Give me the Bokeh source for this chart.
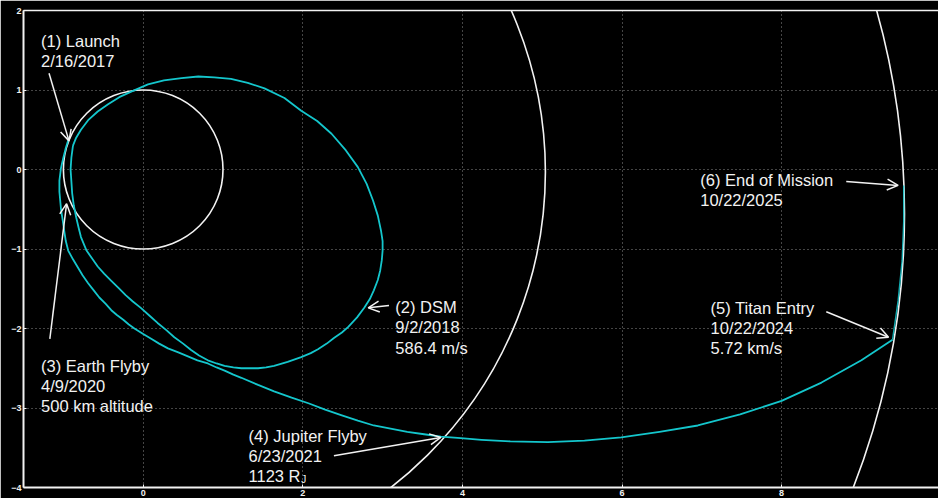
from bokeh.plotting import figure
from bokeh.models import ColumnDataSource, Arrow, OpenHead, LinearAxis, FixedTicker, Range1d
from bokeh.core.properties import value
from bokeh.embed import file_html
from bokeh.resources import INLINE

# Planetary orbits (AU): centre and radius
orbit_name = ["Earth", "Jupiter", "Saturn"]
orbit_cx = [0.0, 0.0, 0.0]
orbit_cy = [0.0, -0.03, -0.56]
orbit_r = [1.0, 5.04, 9.54]

# Launch -> DSM -> return to Earth (first heliocentric loop)
loop_x = [-0.88, -0.90, -0.91, -0.90, -0.89, -0.87, -0.84, -0.81, -0.78, -0.71,
          -0.64, -0.57, -0.49, -0.40, -0.31, -0.22, -0.13, -0.03, 0.08, 0.18,
          0.29, 0.39, 0.50, 0.60, 0.70, 0.81, 0.92, 1.02, 1.13, 1.23,
          1.34, 1.44, 1.54, 1.64, 1.81, 1.98, 2.10, 2.19, 2.30, 2.39,
          2.49, 2.57, 2.68, 2.77, 2.84, 2.89, 2.94, 2.97, 2.99, 3.00,
          3.00, 2.98, 2.94, 2.88, 2.80, 2.69, 2.54, 2.36, 2.18, 1.98,
          1.77, 1.52, 1.31, 1.10, 0.89, 0.69, 0.48, 0.26, 0.06, -0.15,
          -0.30, -0.44, -0.57, -0.69, -0.78, -0.84, -0.88]
loop_y = [0.30, 0.15, 0.00, -0.15, -0.30, -0.45, -0.60, -0.73, -0.85, -1.02,
          -1.12, -1.22, -1.31, -1.40, -1.49, -1.58, -1.66, -1.74, -1.84, -1.93,
          -2.02, -2.11, -2.19, -2.27, -2.34, -2.40, -2.44, -2.47, -2.49, -2.50,
          -2.50, -2.50, -2.49, -2.47, -2.42, -2.36, -2.31, -2.26, -2.19, -2.12,
          -2.05, -1.98, -1.86, -1.74, -1.63, -1.52, -1.39, -1.27, -1.14, -1.02,
          -0.90, -0.77, -0.58, -0.39, -0.18, 0.03, 0.24, 0.45, 0.61, 0.74,
          0.90, 1.02, 1.09, 1.14, 1.16, 1.17, 1.15, 1.12, 1.07, 0.98,
          0.91, 0.82, 0.73, 0.62, 0.50, 0.40, 0.30]

# Earth flyby -> Jupiter flyby -> Titan entry
cruise_x = [-0.93, -0.97, -1.00, -1.03, -1.05, -1.05, -1.04, -1.03, -1.01, -0.99,
            -0.97, -0.94, -0.88, -0.82, -0.76, -0.69, -0.62, -0.55, -0.47, -0.40,
            -0.33, -0.25, -0.18, -0.11, 0.00, 0.10, 0.20, 0.31, 0.44, 0.56,
            0.68, 0.81, 0.92, 1.02, 1.13, 1.23, 1.44, 1.64, 1.86, 2.07,
            2.28, 2.48, 2.69, 2.89, 3.10, 3.31, 3.52, 3.73, 3.98, 4.24,
            4.60, 5.07, 5.53, 5.99, 6.47, 6.95, 7.48, 8.00, 8.50, 9.00, 9.39]
cruise_y = [0.40, 0.27, 0.15, 0.02, -0.14, -0.28, -0.39, -0.50, -0.63, -0.77,
            -0.90, -1.02, -1.13, -1.23, -1.33, -1.43, -1.52, -1.61, -1.69, -1.77,
            -1.83, -1.89, -1.95, -2.00, -2.07, -2.13, -2.19, -2.25, -2.30, -2.35,
            -2.40, -2.44, -2.49, -2.53, -2.58, -2.62, -2.71, -2.79, -2.87, -2.94,
            -3.02, -3.09, -3.16, -3.22, -3.26, -3.30, -3.33, -3.36, -3.38, -3.40,
            -3.42, -3.43, -3.41, -3.37, -3.30, -3.22, -3.08, -2.91, -2.68, -2.40, -2.14]

# Titan entry -> end of mission, following Saturn
titan_x = [9.39, 9.46, 9.51, 9.53, 9.53]
titan_y = [-2.14, -1.65, -1.15, -0.65, -0.20]

# Callout text, one entry per line
label_text = ["(1) Launch", "2/16/2017",
              "(2) DSM", "9/2/2018", "586.4 m/s",
              "(3) Earth Flyby", "4/9/2020", "500 km altitude",
              "(4) Jupiter Flyby", "6/23/2021", "1123 R",
              "(5) Titan Entry", "10/22/2024", "5.72 km/s",
              "(6) End of Mission", "10/22/2025"]
label_x = [-1.28, -1.28,
           3.16, 3.16, 3.16,
           -1.28, -1.28, -1.28,
           1.32, 1.32, 1.32,
           7.11, 7.11, 7.11,
           6.98, 6.98]
label_y = [1.62, 1.37,
           -1.73, -1.98, -2.24,
           -2.47, -2.72, -2.97,
           -3.35, -3.60, -3.85,
           -1.74, -1.99, -2.24,
           -0.13, -0.38]

# Callout arrows: tail -> head
arrow_x0 = [-1.18, 3.08, -1.17, 2.39, 8.56, 8.81]
arrow_y0 = [1.21, -1.71, -2.13, -3.60, -1.79, -0.15]
arrow_x1 = [-0.93, 2.82, -0.96, 3.73, 9.34, 9.46]
arrow_y1 = [0.36, -1.74, -0.43, -3.37, -2.11, -0.20]

x_ticks = [0, 2, 4, 6, 8, 10]
y_ticks = [-4, -3, -2, -1, 0, 1, 2]

FG = "#f2f2f2"
CYAN = "#14c6cc"
FONT = "Liberation Sans"

p = figure(width=938, height=498, output_backend="svg", toolbar_location=None,
           x_range=Range1d(-1.5, 9.966), y_range=Range1d(-4, 2),
           min_border_left=23, min_border_top=10, min_border_bottom=11,
           min_border_right=0, background_fill_color="black",
           border_fill_color="black", outline_line_color=None)

for ax in (p.xaxis[0], p.yaxis[0]):
    ax.axis_line_color = FG
    ax.axis_line_width = 2
    ax.major_tick_line_color = FG
    ax.major_tick_in = 3
    ax.major_tick_out = 0
    ax.minor_tick_line_color = None
    ax.major_label_text_color = FG
    ax.major_label_text_font = FONT
    ax.major_label_text_font_size = "9px"
    ax.major_label_text_font_style = "bold"
    ax.major_label_standoff = 2
p.xaxis[0].ticker = FixedTicker(ticks=x_ticks)
p.yaxis[0].ticker = FixedTicker(ticks=y_ticks)

# top frame edge
top = LinearAxis(ticker=FixedTicker(ticks=[]), axis_line_color=FG, axis_line_width=1.5,
                 major_tick_line_color=None, minor_tick_line_color=None,
                 major_label_standoff=0)
p.add_layout(top, "above")

for g in (p.xgrid[0], p.ygrid[0]):
    g.grid_line_color = "#8a8a8a"
    g.grid_line_dash = "1 3"
    g.grid_line_width = 1
p.xgrid[0].ticker = FixedTicker(ticks=x_ticks)
p.ygrid[0].ticker = FixedTicker(ticks=y_ticks)

orbits = ColumnDataSource(dict(name=orbit_name, x=orbit_cx, y=orbit_cy,
                               w=[2 * r for r in orbit_r], h=[2 * r for r in orbit_r]))
p.ellipse(x="x", y="y", width="w", height="h", source=orbits,
          fill_color=None, line_color=FG, line_width=1.6)

for xs, ys in ((loop_x, loop_y), (cruise_x, cruise_y)):
    p.line(xs, ys, line_color=CYAN, line_width=1.8, line_join="round")
p.line(titan_x, titan_y, line_color=CYAN, line_width=1.4, line_alpha=0.85)

labels = ColumnDataSource(dict(x=label_x, y=label_y, t=label_text))
p.text(x="x", y="y", text="t", source=labels, text_color=FG,
       text_font=value(FONT), text_font_size="16.5px", text_baseline="alphabetic")
# subscript J of R_J
p.text(x=[1.98], y=[-3.90], text=["J"], text_color=FG, text_font=value(FONT),
       text_font_size="10px", text_baseline="alphabetic")

arrows = ColumnDataSource(dict(x0=arrow_x0, y0=arrow_y0, x1=arrow_x1, y1=arrow_y1))
p.add_layout(Arrow(source=arrows, x_start="x0", y_start="y0", x_end="x1", y_end="y1",
                   line_color=FG, line_width=1.5,
                   end=OpenHead(size=11, line_color=FG, line_width=1.5)))

open("out.html", "w").write(file_html(p, INLINE))
